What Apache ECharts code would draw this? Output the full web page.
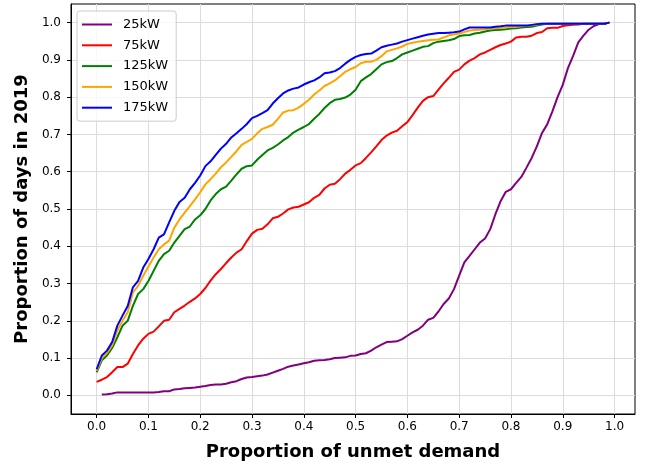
<!DOCTYPE html>
<html>
<head>
<meta charset="utf-8">
<script src="https://cdn.jsdelivr.net/npm/echarts@6/dist/echarts.min.js"></script>
<style>
html,body{margin:0;padding:0;background:#fff;}
#chart{width:646px;height:463px;}
</style>
</head>
<body>
<div id="chart"></div>
<script>
// Proportion of unmet demand (x)
var xs = [0.00,0.01,0.02,0.03,0.04,0.05,0.06,0.07,0.08,0.09,
          0.10,0.11,0.12,0.13,0.14,0.15,0.16,0.17,0.18,0.19,
          0.20,0.21,0.22,0.23,0.24,0.25,0.26,0.27,0.28,0.29,
          0.30,0.31,0.32,0.33,0.34,0.35,0.36,0.37,0.38,0.39,
          0.40,0.41,0.42,0.43,0.44,0.45,0.46,0.47,0.48,0.49,
          0.50,0.51,0.52,0.53,0.54,0.55,0.56,0.57,0.58,0.59,
          0.60,0.61,0.62,0.63,0.64,0.65,0.66,0.67,0.68,0.69,
          0.70,0.71,0.72,0.73,0.74,0.75,0.76,0.77,0.78,0.79,
          0.80,0.81,0.82,0.83,0.84,0.85,0.86,0.87,0.88,0.89,
          0.90,0.91,0.92,0.93,0.94,0.95,0.96,0.97,0.98,0.99];

var seriesNames = ['25kW','75kW','125kW','150kW','175kW'];

var y25 = [null,0.002,0.003,0.005,0.008,0.008,0.008,0.008,0.008,0.008,
           0.008,0.008,0.009,0.011,0.011,0.016,0.017,0.019,0.020,0.021,
           0.023,0.025,0.028,0.029,0.029,0.031,0.035,0.038,0.044,0.048,
           0.049,0.051,0.053,0.056,0.061,0.066,0.071,0.077,0.080,0.083,
           0.086,0.089,0.093,0.094,0.095,0.097,0.100,0.101,0.102,0.106,
           0.107,0.111,0.113,0.120,0.129,0.136,0.143,0.144,0.145,0.151,
           0.160,0.169,0.176,0.187,0.203,0.208,0.225,0.245,0.260,0.285,
           0.321,0.357,0.374,0.392,0.410,0.421,0.446,0.486,0.521,0.546,
           0.553,0.570,0.586,0.611,0.637,0.668,0.704,0.727,0.762,0.800,
           0.833,0.878,0.911,0.947,0.965,0.981,0.991,0.996,0.997,1.000];

var y75 = [0.036,0.042,0.049,0.062,0.076,0.076,0.085,0.111,0.134,0.152,
           0.165,0.171,0.185,0.200,0.203,0.223,0.232,0.241,0.251,0.260,
           0.272,0.288,0.308,0.325,0.339,0.355,0.370,0.383,0.392,0.414,
           0.434,0.444,0.447,0.459,0.475,0.479,0.488,0.499,0.504,0.506,
           0.512,0.518,0.530,0.538,0.555,0.565,0.568,0.580,0.595,0.605,
           0.617,0.623,0.637,0.652,0.668,0.685,0.697,0.705,0.710,0.722,
           0.733,0.752,0.772,0.790,0.800,0.803,0.820,0.837,0.852,0.868,
           0.874,0.888,0.898,0.905,0.915,0.920,0.927,0.934,0.940,0.944,
           0.949,0.960,0.962,0.962,0.965,0.972,0.975,0.985,0.986,0.986,
           0.991,0.993,0.994,0.995,0.997,0.997,0.997,0.997,0.997,1.000];

var y125 = [0.062,0.094,0.107,0.127,0.156,0.187,0.200,0.240,0.272,0.285,
            0.307,0.334,0.361,0.379,0.388,0.410,0.428,0.446,0.453,0.472,
            0.483,0.500,0.523,0.540,0.553,0.560,0.576,0.593,0.608,0.615,
            0.617,0.632,0.645,0.657,0.664,0.673,0.684,0.693,0.705,0.713,
            0.720,0.728,0.742,0.755,0.771,0.784,0.793,0.795,0.799,0.807,
            0.820,0.843,0.853,0.862,0.875,0.888,0.894,0.897,0.905,0.915,
            0.920,0.925,0.930,0.935,0.937,0.945,0.949,0.951,0.953,0.956,
            0.964,0.966,0.967,0.971,0.973,0.976,0.979,0.980,0.981,0.982,
            0.984,0.985,0.987,0.988,0.989,0.992,0.995,0.997,0.997,0.997,
            0.997,0.997,0.997,0.997,0.997,0.997,0.997,0.997,0.997,1.000];

var y150 = [0.066,0.100,0.114,0.134,0.174,0.200,0.223,0.276,0.294,0.321,
            0.346,0.370,0.392,0.405,0.415,0.450,0.472,0.490,0.508,0.526,
            0.545,0.566,0.580,0.595,0.612,0.625,0.640,0.655,0.672,0.680,
            0.688,0.703,0.715,0.720,0.726,0.742,0.759,0.764,0.765,0.772,
            0.782,0.793,0.807,0.818,0.830,0.837,0.845,0.856,0.868,0.875,
            0.881,0.891,0.895,0.895,0.900,0.910,0.923,0.927,0.931,0.936,
            0.943,0.946,0.949,0.951,0.953,0.954,0.955,0.960,0.966,0.968,
            0.971,0.975,0.979,0.980,0.981,0.982,0.984,0.985,0.986,0.987,
            0.988,0.989,0.990,0.992,0.993,0.995,0.997,0.997,0.997,0.997,
            0.997,0.997,0.997,0.997,0.997,0.997,0.997,0.997,0.997,1.000];

var y175 = [0.070,0.107,0.120,0.143,0.187,0.214,0.240,0.290,0.307,0.343,
            0.366,0.392,0.423,0.432,0.464,0.495,0.519,0.530,0.553,0.570,
            0.590,0.615,0.628,0.645,0.662,0.675,0.692,0.703,0.715,0.728,
            0.744,0.750,0.757,0.765,0.783,0.797,0.810,0.818,0.823,0.826,
            0.834,0.840,0.845,0.853,0.864,0.866,0.870,0.878,0.890,0.900,
            0.908,0.913,0.916,0.917,0.925,0.934,0.938,0.941,0.944,0.949,
            0.953,0.957,0.961,0.965,0.968,0.970,0.972,0.972,0.973,0.974,
            0.976,0.982,0.987,0.987,0.987,0.987,0.987,0.989,0.990,0.992,
            0.992,0.992,0.992,0.992,0.994,0.996,0.997,0.997,0.997,0.997,
            0.997,0.997,0.997,0.997,0.997,0.997,0.997,0.997,0.997,1.000];

var xTicks = [0.0,0.1,0.2,0.3,0.4,0.5,0.6,0.7,0.8,0.9,1.0];
var yTicks = [0.0,0.1,0.2,0.3,0.4,0.5,0.6,0.7,0.8,0.9,1.0];

var colors = ['#800080','#ff0000','#008000','#ffa500','#0000ff'];
var allY = [y25, y75, y125, y150, y175];

var chart = echarts.init(document.getElementById('chart'), null, {renderer:'canvas'});
var FONT = 'DejaVu Sans';
var gridLine = {show:true, lineStyle:{color:'#dcdcdc', width:1}};

var series = seriesNames.map(function(name, k){
  return {
    name: name,
    type: 'line',
    data: xs.map(function(x, i){ return [x, allY[k][i]]; }),
    symbol: 'none',
    connectNulls: false,
    lineStyle: {color: colors[k], width: 2},
    itemStyle: {color: colors[k]},
    z: 2 + k
  };
});

chart.setOption({
  animation: false,
  backgroundColor: '#ffffff',
  grid: {left:71, right:11, top:4, bottom:49, show:true, borderColor:'#000', borderWidth:1,
         backgroundColor:'transparent', containLabel:false, outerBoundsMode:'none'},
  legend: {
    orient: 'vertical', left: 77, top: 11,
    data: seriesNames,
    icon: 'rect',
    itemWidth: 30, itemHeight: 2, itemGap: 5.8,
    padding: [6, 8, 6, 5],
    borderColor: '#cccccc', borderWidth: 1, borderRadius: 3,
    backgroundColor: 'rgba(255,255,255,0.8)',
    textStyle: {fontFamily: FONT, fontSize: 13, lineHeight: 15, color: '#000', padding:[0,0,0,6]}
  },
  xAxis: {
    type: 'value', min: -0.0495, max: 1.0395,
    name: 'Proportion of unmet demand', nameLocation: 'middle', nameGap: 29,
    nameTextStyle: {fontFamily: FONT, fontSize: 18, fontWeight: 'bold', color: '#000'},
    axisLine: {show: true, onZero: false, lineStyle: {color: '#000', width: 1}},
    axisTick: {show: true, customValues: xTicks, length: 4, lineStyle: {color: '#000'}},
    axisLabel: {customValues: xTicks, margin: 7, fontFamily: FONT, fontSize: 12, color: '#000',
                formatter: function(v){ return v.toFixed(1); }},
    splitLine: gridLine
  },
  yAxis: {
    type: 'value', min: -0.05, max: 1.05,
    name: 'Proportion of days in 2019', nameLocation: 'middle', nameGap: 40,
    nameTextStyle: {fontFamily: FONT, fontSize: 18, fontWeight: 'bold', color: '#000'},
    axisLine: {show: true, onZero: false, lineStyle: {color: '#000', width: 1}},
    axisTick: {show: true, customValues: yTicks, length: 4, lineStyle: {color: '#000'}},
    axisLabel: {customValues: yTicks, margin: 10, fontFamily: FONT, fontSize: 12, color: '#000',
                formatter: function(v){ return v.toFixed(1); }},
    splitLine: gridLine
  },
  series: series
});
</script>
</body>
</html>
